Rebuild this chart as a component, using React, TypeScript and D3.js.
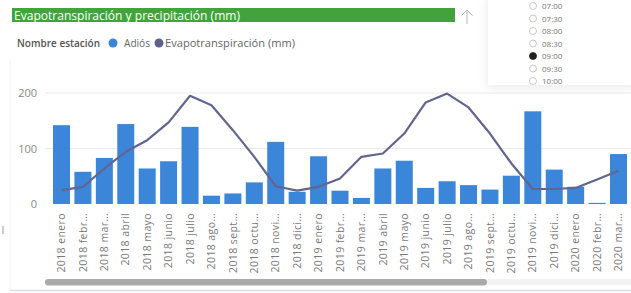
import React from "react";
import * as d3 from "d3";

const categories = [
  "2018 enero", "2018 febr…", "2018 mar…", "2018 abril", "2018 mayo", "2018 junio", "2018 julio",
  "2018 ago…", "2018 sept…", "2018 octu…", "2018 novi…", "2018 dici…",
  "2019 enero", "2019 febr…", "2019 mar…", "2019 abril", "2019 mayo", "2019 junio", "2019 julio",
  "2019 ago…", "2019 sept…", "2019 octu…", "2019 novi…", "2019 dici…",
  "2020 enero", "2020 febr…", "2020 mar…",
];
const precipitacion = [142, 58, 83, 144, 64, 77, 139, 15, 19, 39, 112, 22, 86, 24, 11, 64, 78, 29, 41, 34, 26, 51, 167, 62, 31, 2, 90];
const evapotranspiracion = [25, 31, 64, 94, 115, 147, 195, 178, 133, 85, 32, 24, 31, 46, 85, 91, 127, 183, 199, 174, 127, 73, 27, 27, 29, 44, 60];
const yTicks = [0, 100, 200];
const timeOptions = ["07:00", "07:30", "08:00", "08:30", "09:00", "09:30", "10:00"];
const selectedTime = "09:00";

const W = 631;
const H = 293;
const FONT = "'Open Sans', 'Noto Sans', sans-serif";

export default function App() {
  const x = d3.scalePoint<string>().domain(categories).range([61.5, 618.5]);
  const y = d3.scaleLinear().domain([0, 200]).range([204, 93]);
  const barW = 17;
  const line = d3
    .line<number>()
    .x((_, i) => x(categories[i]) as number)
    .y((d) => y(d));
  const ty = d3.scaleLinear().domain([0, timeOptions.length - 1]).range([6, 81]);

  return (
    <svg width={W} height={H} style={{ position: "absolute", left: 0, top: 0, background: "#fff" }}>
      <defs>
        <clipPath id="panelclip">
          <rect x={488} y={0} width={143} height={85} />
        </clipPath>
        <filter id="shadow" x="-20%" y="-20%" width="140%" height="160%">
          <feDropShadow dx={-1} dy={3} stdDeviation={5} floodColor="#000" floodOpacity={0.08} />
        </filter>
      </defs>
      <rect x={0} y={0} width={W} height={H} fill="#fff" />
      {/* frame lines */}
      <line x1={10} x2={10} y1={60} y2={290} stroke="#f3f5f7" strokeWidth={1} />
      <line x1={10} x2={W} y1={290.5} y2={290.5} stroke="#d5dde6" strokeWidth={1.5} />
      <line x1={3} x2={3} y1={226} y2={234} stroke="#999" strokeWidth={1} />

      {/* title */}
      <rect x={12} y={8} width={443} height={14} fill="#42a33c" />
      <text x={14} y={19.5} fill="#fff" fontFamily={FONT} fontSize={12} textLength={226} lengthAdjust="spacingAndGlyphs">
        Evapotranspiración y precipitación (mm)
      </text>
      <path d="M467,24 V10 M461.5,15.5 L467,10 L472.5,15.5" fill="none" stroke="#b5b5b5" strokeWidth={1} />

      {/* legend */}
      <text x={17} y={47} fill="#555" fontFamily={FONT} fontSize={11} fontWeight={600} textLength={83} lengthAdjust="spacingAndGlyphs">
        Nombre estación
      </text>
      <circle cx={113} cy={43} r={4.5} fill="#3b86d9" />
      <text x={124} y={47} fill="#666" fontFamily={FONT} fontSize={11} textLength={26} lengthAdjust="spacingAndGlyphs">Adiós</text>
      <circle cx={159} cy={43} r={4.5} fill="#5d6190" />
      <text x={165} y={47} fill="#666" fontFamily={FONT} fontSize={11} textLength={130} lengthAdjust="spacingAndGlyphs">
        Evapotranspiración (mm)
      </text>

      {/* gridlines & y labels */}
      {yTicks.map((t) => (
        <g key={t}>
          {t > 0 && <line x1={45} x2={W} y1={y(t)} y2={y(t)} stroke="#ebebeb" strokeWidth={1} />}
          <text x={37} y={y(t) + 4} textAnchor="end" fill="#888" fontFamily={FONT} fontSize={11}>
            {t}
          </text>
        </g>
      ))}

      {/* bars */}
      {precipitacion.map((v, i) => (
        <rect
          key={i}
          x={(x(categories[i]) as number) - barW / 2}
          y={y(v)}
          width={barW}
          height={y(0) - y(v)}
          fill="#3b86d9"
        />
      ))}

      {/* line */}
      <path d={line(evapotranspiracion) || ""} fill="none" stroke="#62658f" strokeWidth={2.2} strokeLinejoin="round" />

      {/* x labels */}
      {categories.map((c) => (
        <text
          key={c}
          transform={`translate(${x(c)},213) rotate(-90)`}
          textAnchor="end"
          dy="0.35em"
          fill="#7a7a7a"
          fontFamily={FONT}
          fontSize={10.5}
          letterSpacing={0.4}
        >
          {c}
        </text>
      ))}

      {/* scrollbar */}
      <rect x={487} y={279} width={144} height={6} fill="#f3f3f3" />
      <rect x={45} y={279} width={442} height={6.5} rx={3.2} fill="#a9a9a9" />

      {/* time panel overlay */}
      <rect x={488} y={-6} width={150} height={91} fill="#fff" filter="url(#shadow)" />
      <g clipPath="url(#panelclip)">
        {timeOptions.map((t, i) => (
          <g key={t}>
            <circle
              cx={533}
              cy={ty(i)}
              r={3.5}
              fill={t === selectedTime ? "#222" : "#fff"}
              stroke={t === selectedTime ? "#222" : "#bbb"}
              strokeWidth={0.8}
            />
            <text x={542} y={ty(i) + 3} fill="#777" fontFamily={FONT} fontSize={8}>
              {t}
            </text>
          </g>
        ))}
      </g>
    </svg>
  );
}
